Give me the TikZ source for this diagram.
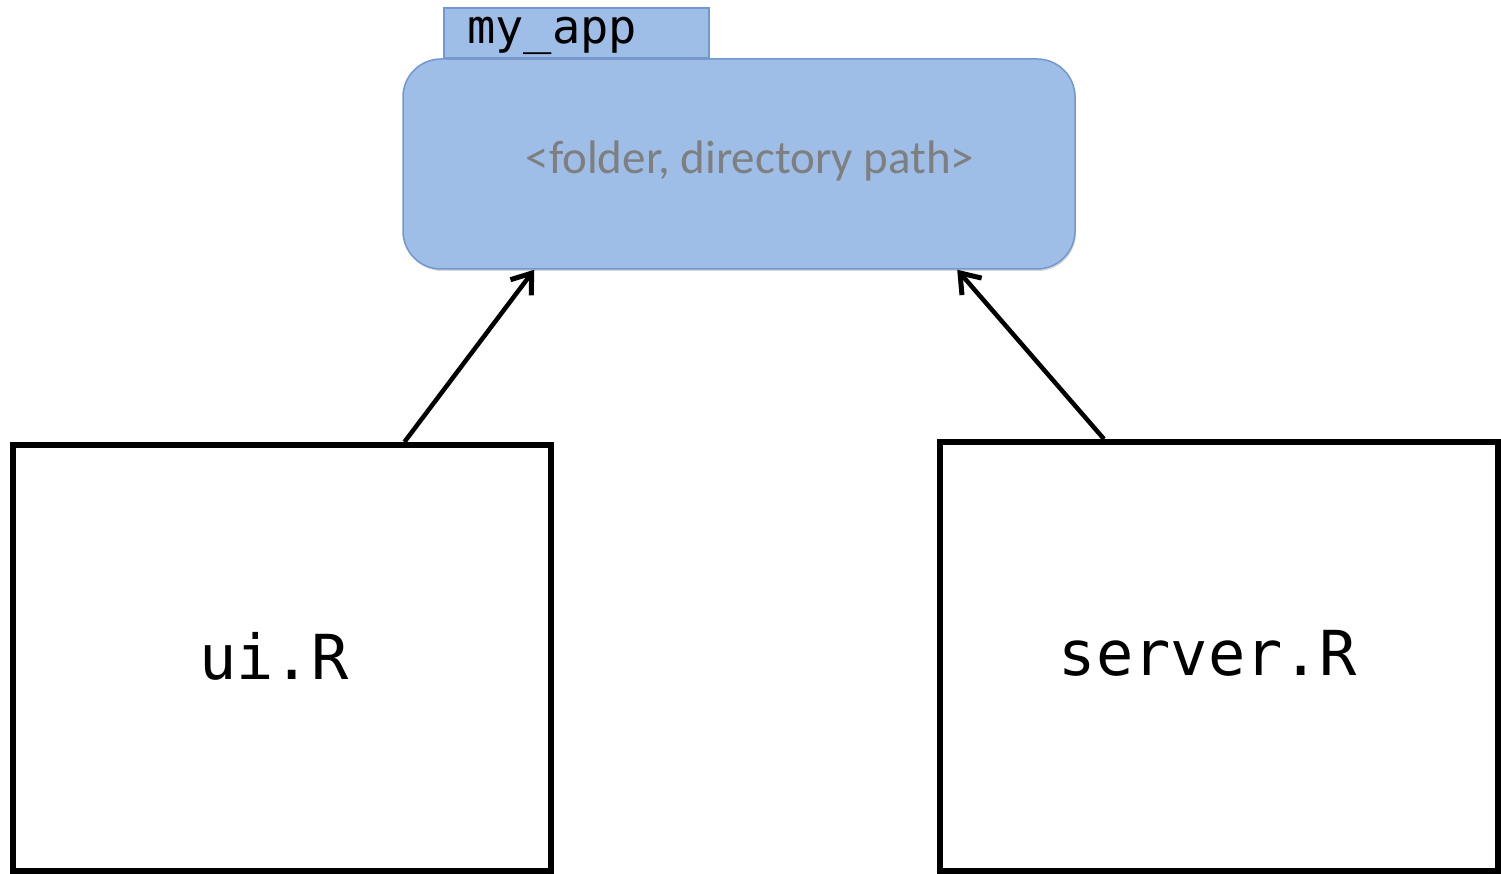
\documentclass[tikz,border=0pt]{standalone}
\usepackage{fontspec}
\setmainfont{Carlito}
\newfontfamily\codefont{DejaVu Sans Mono}
\usetikzlibrary{calc,arrows.meta,shadows}
\definecolor{boxfill}{HTML}{9EBEE7}
\definecolor{boxline}{HTML}{7397D0}
\definecolor{pathgray}{HTML}{7F7F7F}
\tikzset{
  folderbox/.style={draw=boxline, fill=boxfill, line width=1.5pt, rounded corners=38pt,
    minimum width=672pt, minimum height=210pt, inner sep=0pt,
    drop shadow={shadow xshift=1pt, shadow yshift=-2pt, opacity=0.3}},
  tabbox/.style={draw=boxline, fill=boxfill, line width=1.2pt,
    minimum width=265pt, minimum height=50pt, inner sep=0pt,
    drop shadow={shadow xshift=1pt, shadow yshift=-2pt, opacity=0.3}},
  filebox/.style={draw=black, line width=6pt, fill=white, inner sep=0pt},
  conn/.style={draw=black, line width=4.5pt, -{Straight Barb[length=18pt,width=26pt,line width=5pt]}},
}
\begin{document}
\begin{tikzpicture}[x=1pt,y=-1pt]
  \useasboundingbox (0,0) rectangle (1501,874);
  \node[folderbox] (folder) at (739,164) {};
  \node[text=pathgray, font=\fontsize{47}{54}\selectfont] (pathtxt) at (750,161) {<folder, directory path>};
  \node[tabbox] (tab) at (576.5,33) {};
  \node[font=\codefont\fontsize{47}{54}\selectfont, anchor=west, inner sep=0pt] (tabtxt) at (467,36) {my\_app};
  \node[filebox, minimum width=538pt, minimum height=426pt] (ui) at (282,658) {};
  \node[font=\codefont\fontsize{62}{70}\selectfont, inner sep=0pt] (uitxt) at (274,656) {ui.R};
  \node[filebox, minimum width=558pt, minimum height=429pt] (server) at (1219,656.5) {};
  \node[font=\codefont\fontsize{62}{70}\selectfont, inner sep=0pt] (servertxt) at (1208,653) {server.R};
  \draw[conn] ($(ui.north west)!0.725!(ui.north east)$) -- ($(folder.south west)!0.196!(folder.south east)$);
  \draw[conn] ($(server.north west)!0.296!(server.north east)$) -- ($(folder.south west)!0.824!(folder.south east)$);
\end{tikzpicture}
\end{document}
